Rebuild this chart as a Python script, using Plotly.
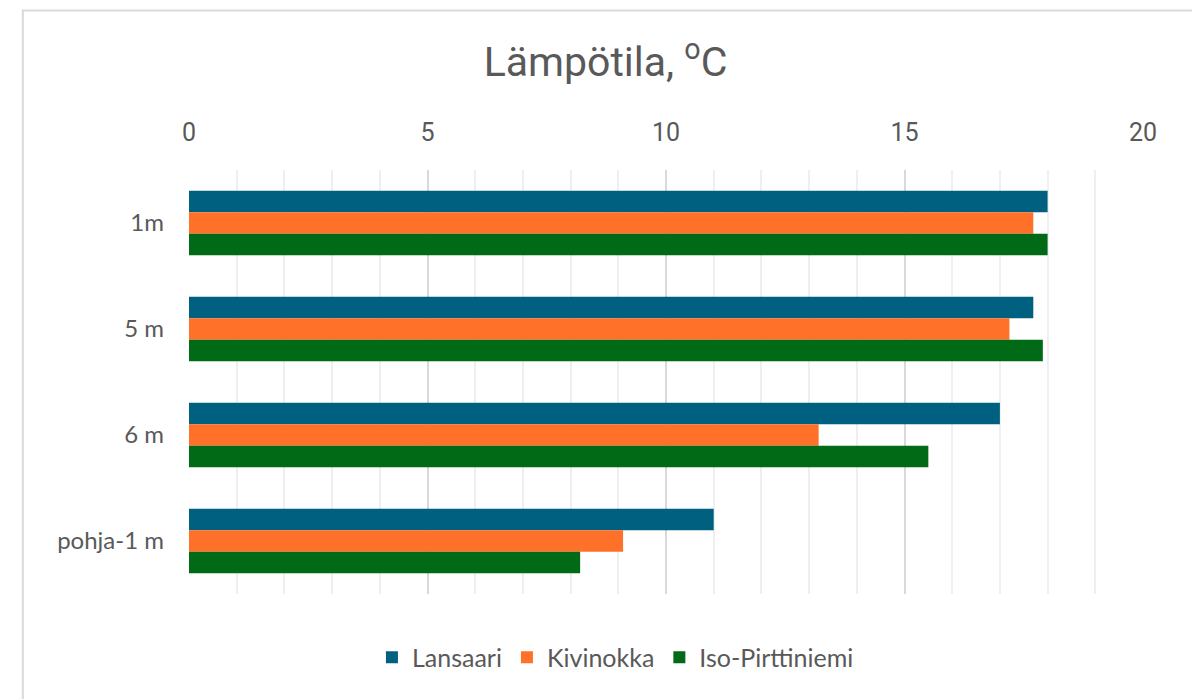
import plotly.graph_objects as go

depths = ["1m", "5 m", "6 m", "pohja-1 m"]
lansaari = [18.0, 17.7, 17.0, 11.0]
kivinokka = [17.7, 17.2, 13.2, 9.1]
iso_pirttiniemi = [18.0, 17.9, 15.5, 8.2]

series = [
    ("Lansaari", lansaari, "#00607F"),
    ("Kivinokka", kivinokka, "#FF7128"),
    ("Iso-Pirttiniemi", iso_pirttiniemi, "#006A16"),
]

fig = go.Figure()
for name, vals, color in series:
    fig.add_bar(y=depths, x=vals, name=name, orientation="h",
                marker=dict(color=color, line=dict(width=0)))

font = "Roboto, sans-serif"
label_font = "Lato, sans-serif"
fig.update_layout(
    width=1192, height=699,
    margin=dict(l=189, r=49, t=170, b=105),
    paper_bgcolor="white", plot_bgcolor="white",
    barmode="group", bargap=0.39, bargroupgap=0,
    font=dict(family=font, color="#595959"),
    title=dict(text="Lämpötila, <sup>o</sup>C", x=0.508, xanchor="center",
               y=0.912, yanchor="middle",
               font=dict(size=41, color="#595959", family=font)),
    legend=dict(orientation="h", x=0.447, xanchor="center", y=-0.15,
                yanchor="middle", itemwidth=30,
                font=dict(size=25, color="#595959", family=label_font)),
    showlegend=True,
)
fig.update_xaxes(
    side="top", range=[0, 20], dtick=5, showgrid=True,
    gridcolor="#d9d9d9", gridwidth=1.5, zeroline=False,
    showline=False, ticks="", ticklabelstandoff=23,
    tickfont=dict(size=25, color="#595959"),
    minor=dict(dtick=1, showgrid=True, gridcolor="#efefef", gridwidth=1.5),
)
fig.update_yaxes(
    autorange="reversed", showline=False, showgrid=False,
    ticks="", ticklabelstandoff=24,
    tickfont=dict(size=24, color="#595959", family=label_font),
)

# outer chart-area border
fig.add_shape(type="rect", xref="paper", yref="paper",
              x0=-0.1742, x1=2, y0=-2, y1=1.376,
              line=dict(color="#d9d9d9", width=2), layer="below")

fig.write_html("out.html", config={"displayModeBar": False},
               post_script="document.body.style.margin='0';")
